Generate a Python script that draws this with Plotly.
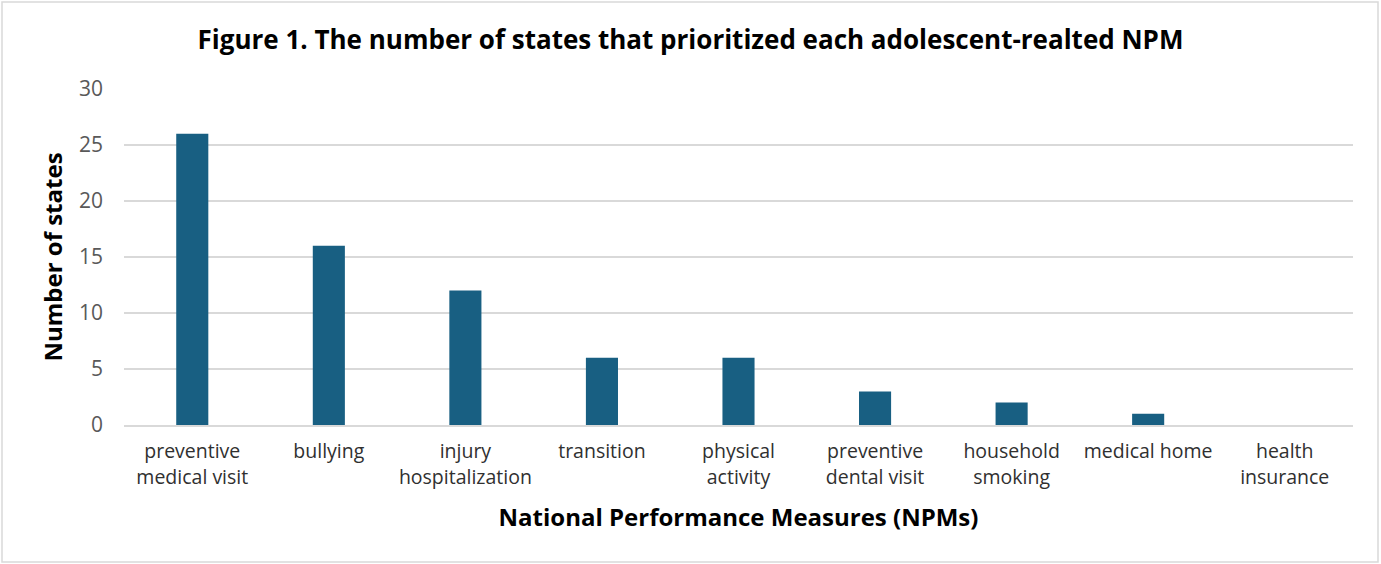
import plotly.graph_objects as go

categories = ["preventive<br>medical visit", "bullying", "injury<br>hospitalization", "transition",
              "physical<br>activity", "preventive<br>dental visit", "household<br>smoking",
              "medical home", "health<br>insurance"]
values = [26, 16, 12, 6, 6, 3, 2, 1, 0]
y_ticks = [0, 5, 10, 15, 20, 25, 30]

W, H = 1381, 564
L, R, T, B = 124, 28, 89, 139
pw, ph = W - L - R, H - T - B

fig = go.Figure(go.Bar(x=categories, y=values, marker=dict(color="#185f82", line=dict(width=0)),
                       width=0.235))

font_family = "Open Sans, Lato, sans-serif"
fig.update_layout(
    width=W, height=H,
    margin=dict(l=L, r=R, t=T, b=B),
    paper_bgcolor="white", plot_bgcolor="white",
    title=dict(text="<b>Figure 1. The number of states that prioritized each adolescent-realted NPM</b>",
               x=0.5, xanchor="center", y=1 - 40 / H, yanchor="middle",
               font=dict(size=26, color="#000000", family=font_family)),
    showlegend=False,
)
fig.update_xaxes(
    showgrid=False, showline=True, linecolor="#d9d9d9", linewidth=1.5,
    ticks="", ticklabelstandoff=8, tickfont=dict(size=19.5, color="#303030", family=font_family),
    title=dict(text="<b>National Performance Measures (NPMs)</b>", standoff=21,
               font=dict(size=24, color="#000000", family=font_family)),
)
fig.update_yaxes(
    range=[0, 30], tickvals=y_ticks, showgrid=True, gridcolor="#d9d9d9", gridwidth=1.5,
    zeroline=False, showline=False, ticks="", ticklabelstandoff=20,
    tickfont=dict(size=21, color="#595959", family=font_family),
    title=dict(text="<b>Number of states</b>", standoff=9,
               font=dict(size=24, color="#000000", family=font_family)),
)
# chart border
fig.add_shape(type="rect", xref="paper", yref="paper",
              x0=(2 - L) / pw, x1=(W - 3 - L) / pw,
              y0=(T + ph - (H - 2)) / ph, y1=(T + ph - 2) / ph,
              line=dict(color="#d9d9d9", width=1.5), fillcolor="rgba(0,0,0,0)", layer="below")

fig.write_html("out.html")
